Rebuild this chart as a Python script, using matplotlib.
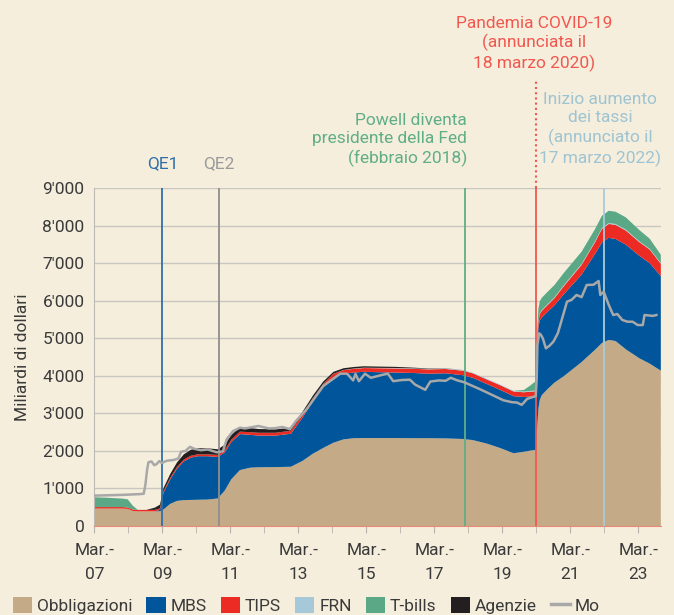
import matplotlib
matplotlib.use("Agg")
import matplotlib.pyplot as plt
from matplotlib.patches import Patch
from matplotlib.lines import Line2D

plt.rcParams['font.family'] = ['Roboto', 'DejaVu Sans']

# dates as decimal years
dates = [2007.17, 2007.5, 2008.0, 2008.15, 2008.3, 2008.45, 2008.7, 2008.95,
         2009.1, 2009.2, 2009.4, 2009.6, 2009.8, 2010.0, 2010.2, 2010.5,
         2010.8, 2011.0, 2011.2, 2011.45, 2011.75, 2012.0, 2012.5, 2012.95,
         2013.3, 2013.6, 2013.9, 2014.2, 2014.5, 2014.8, 2015.1, 2015.5,
         2016.0, 2016.5, 2017.0, 2017.5, 2018.0, 2018.3, 2018.7, 2019.1,
         2019.5, 2019.8, 2020.0, 2020.15, 2020.19, 2020.23, 2020.27, 2020.33,
         2020.5, 2020.7, 2021.0, 2021.5, 2021.9, 2022.1, 2022.3, 2022.5,
         2022.8, 2023.2, 2023.5, 2023.83]

obbligazioni = [465, 465, 465, 455, 400, 390, 390, 390,
                395, 440, 590, 670, 690, 695, 700, 705,
                735, 940, 1250, 1490, 1555, 1565, 1570, 1580,
                1740, 1930, 2080, 2220, 2310, 2340, 2345, 2345,
                2345, 2340, 2340, 2335, 2320, 2290, 2200, 2080,
                1940, 1980, 2010, 2030, 2600, 3130, 3360, 3490,
                3650, 3820, 4010, 4370, 4700, 4880, 4960, 4930,
                4710, 4470, 4330, 4140]

mbs = [0, 0, 0, 0, 0, 0, 0, 0,
       35, 440, 650, 860, 1030, 1125, 1160, 1155,
       1105, 1020, 990, 960, 875, 845, 840, 880,
       1160, 1400, 1620, 1740, 1750, 1750, 1765, 1755,
       1745, 1740, 1720, 1735, 1700, 1660, 1590, 1550,
       1520, 1460, 1440, 1430, 2100, 2170, 2120, 2070,
       2060, 2060, 2190, 2330, 2560, 2680, 2720, 2720,
       2790, 2730, 2680, 2520]

tips = [40, 40, 40, 40, 40, 40, 40, 40,
        40, 45, 45, 45, 50, 50, 50, 50,
        55, 60, 65, 65, 70, 75, 75, 80,
        85, 85, 90, 95, 95, 100, 100, 105,
        110, 110, 115, 115, 120, 120, 120, 125,
        125, 125, 130, 130, 140, 160, 170, 175,
        180, 190, 220, 260, 310, 360, 370, 375,
        375, 365, 360, 330]

frn = [0, 0, 0, 0, 0, 0, 0, 0,
       0, 0, 0, 0, 0, 0, 0, 0,
       0, 0, 0, 0, 0, 0, 0, 0,
       0, 0, 0, 3, 5, 8, 10, 10,
       12, 13, 14, 15, 16, 17, 18, 19,
       19, 20, 20, 20, 20, 22, 22, 22,
       25, 25, 25, 25, 25, 25, 25, 25,
       25, 22, 20, 20]

tbills = [260, 250, 225, 215, 100, 0, 0, 0,
          0, 0, 0, 0, 0, 0, 0, 0,
          0, 0, 0, 0, 0, 0, 0, 0,
          0, 0, 0, 0, 0, 0, 0, 0,
          0, 0, 0, 0, 0, 0, 0, 0,
          0, 40, 150, 250, 290, 310, 320, 326,
          326, 326, 326, 326, 326, 326, 326, 326,
          326, 300, 270, 220]

agenzie = [0, 0, 0, 0, 0, 0, 0, 60,
           100, 80, 100, 120, 140, 160, 165, 160,
           150, 140, 125, 115, 110, 100, 90, 80,
           70, 65, 60, 50, 45, 40, 38, 35,
           30, 20, 10, 5, 2, 0, 0, 0,
           0, 0, 0, 0, 0, 0, 0, 0,
           0, 0, 0, 0, 0, 0, 0, 0,
           0, 0, 0, 0]

# M0 (base monetaria)
mo_dates = [2007.17, 2007.6, 2008.0, 2008.5, 2008.62, 2008.67, 2008.72, 2008.76,
            2008.85, 2008.93, 2009.0, 2009.08, 2009.15, 2009.3, 2009.5, 2009.64,
            2009.72, 2009.85, 2009.98, 2010.1, 2010.3, 2010.5, 2010.77, 2010.95,
            2011.06, 2011.25, 2011.45, 2011.6, 2011.99, 2012.3, 2012.5, 2012.7,
            2012.92, 2013.1, 2013.41, 2013.9, 2014.4, 2014.6, 2014.78, 2014.85,
            2014.95, 2015.13, 2015.3, 2015.6, 2015.8, 2015.96, 2016.2, 2016.45,
            2016.6, 2016.9, 2017.05, 2017.3, 2017.5, 2017.65, 2017.85, 2018.05,
            2018.5, 2018.9, 2019.2, 2019.45, 2019.6, 2019.74, 2019.9, 2020.1,
            2020.15, 2020.18, 2020.2, 2020.25, 2020.3, 2020.36, 2020.45, 2020.55,
            2020.67, 2020.8, 2020.9, 2021.07, 2021.2, 2021.35, 2021.5, 2021.65,
            2021.85, 2022.0, 2022.05, 2022.15, 2022.3, 2022.43, 2022.55, 2022.7,
            2022.85, 2023.0, 2023.15, 2023.3, 2023.35, 2023.6, 2023.7]
mo = [810, 820, 830, 850, 860, 1100, 1500, 1700,
      1720, 1620, 1650, 1730, 1680, 1740, 1760, 1800,
      1980, 2000, 2110, 2060, 2020, 2040, 1965, 1990,
      2310, 2530, 2620, 2600, 2666, 2600, 2610, 2640,
      2580, 2800, 3110, 3730, 4060, 4060, 3880, 4050,
      3860, 4060, 3950, 4020, 4060, 3860, 3890, 3900,
      3770, 3630, 3850, 3880, 3870, 3950, 3880, 3830,
      3650, 3480, 3350, 3300, 3290, 3230, 3390, 3447,
      3460, 3936, 4824, 5135, 5100, 5000, 4735, 4800,
      4913, 5135, 5445, 5979, 6024, 6157, 6100, 6424,
      6430, 6530, 6157, 6246, 5890, 5623, 5650, 5490,
      5445, 5445, 5356, 5356, 5623, 5600, 5623]

labels = ['Obbligazioni', 'MBS', 'TIPS', 'FRN', 'T-bills', 'Agenzie']
colors = ['#c4aa86', '#00559b', '#ec2c24', '#a6c9d9', '#5aa886', '#231f20']
bg = '#f5eedd'
txt = '#3a3a3a'

fig = plt.figure(figsize=(6.74, 6.15), dpi=100, facecolor=bg)
ax = fig.add_axes([0.1399, 0.1447, 0.8408, 0.5491], facecolor=bg)

ax.stackplot(dates, obbligazioni, mbs, tips, frn, tbills, agenzie,
             colors=colors, linewidth=0, zorder=2)

# event lines
events = [(2009.17, '#2f6fa8'), (2010.83, '#8e8e8e'), (2018.08, '#5fae86'),
          (2020.17, '#f0584f'), (2022.17, '#a9cbd8')]
for x, c in events:
    ax.axvline(x, color=c, lw=1.3, zorder=3)
ax.plot([2020.17, 2020.17], [9000, 11900], color='#f0584f', lw=1.5,
        ls=(0, (1, 1.5)), clip_on=False, zorder=3)

ax.plot(mo_dates, mo, color='#a8a8a8', lw=1.8, zorder=4)

ax.set_xlim(2007.1667, 2023.835)
ax.set_ylim(0, 9000)
ax.set_yticks(range(0, 9001, 1000))
ax.set_yticklabels(['0', "1'000", "2'000", "3'000", "4'000", "5'000",
                    "6'000", "7'000", "8'000", "9'000"])
ax.yaxis.grid(True, color='#c9c6c2', lw=1)
ax.set_axisbelow(True)
ax.tick_params(axis='y', length=0, pad=7, labelsize=12.5, labelcolor=txt)

years = list(range(2007, 2024))
ax.set_xticks([y + 2 / 12 for y in years if y % 2 == 1])
ax.set_xticklabels(['Mar.-\n%02d' % (y % 100) for y in years if y % 2 == 1],
                   linespacing=1.75)
ax.set_xticks([y + 2 / 12 for y in years], minor=True)
ax.tick_params(axis='x', which='both', length=5, color='#b8b4ae',
               labelsize=12.5, labelcolor=txt, pad=7)

for s in ['top', 'right']:
    ax.spines[s].set_visible(False)
ax.spines['left'].set_color('#bdbab5')
ax.spines['bottom'].set_color('#e98a78')
ax.set_ylabel('Miliardi di dollari', fontsize=12.5, color=txt, labelpad=9)

# annotations
ax.text(2020.10, 12850, 'Pandemia COVID-19\n(annunciata il\n18 marzo 2020)',
        ha='center', va='center', color='#f0584f', fontsize=12.5,
        linespacing=1.25, clip_on=False)
ax.text(2022.04, 10570, 'Inizio aumento\ndei tassi\n(annunciato il\n17 marzo 2022)',
        ha='center', va='center', color='#9ec4d2', fontsize=12.5,
        linespacing=1.25, clip_on=False)
ax.text(2018.13, 10290, 'Powell diventa\npresidente della Fed\n(febbraio 2018)',
        ha='right', va='center', multialignment='right', color='#5fae86',
        fontsize=12.5, linespacing=1.25, clip_on=False)
ax.text(2009.17, 9670, 'QE1', ha='center', va='center', color='#2f6fa8',
        fontsize=12.5, clip_on=False)
ax.text(2010.83, 9670, 'QE2', ha='center', va='center', color='#9a9a9a',
        fontsize=12.5, clip_on=False)

handles = [Patch(facecolor=c, edgecolor='none') for c in colors]
handles.append(Line2D([0], [0], color='#a8a8a8', lw=2.5))
fig.legend(handles, labels + ['Mo'], loc='center left',
           bbox_to_anchor=(0.006, 0.016), ncol=7, frameon=False,
           fontsize=12.5, handlelength=1.1, handleheight=1.05,
           handletextpad=0.3, columnspacing=0.8, borderpad=0,
           labelcolor=txt)

fig.savefig('out.png', dpi=100, facecolor=bg)
